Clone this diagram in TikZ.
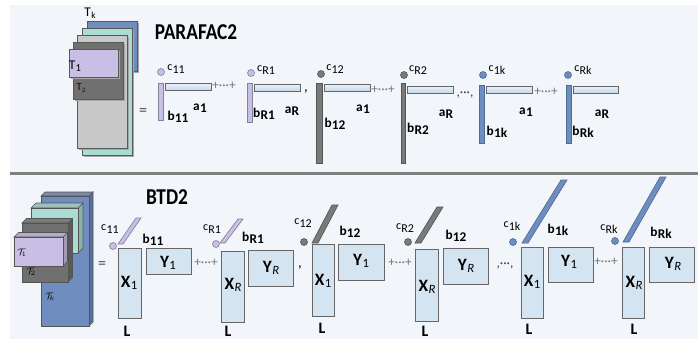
\documentclass[tikz,border=0pt]{standalone}
\usepackage{fontspec}
\setmainfont{Carlito}
\usepackage{graphicx}
\usetikzlibrary{calc}

\definecolor{panel}{HTML}{F2F5FA}
\definecolor{lavfill}{HTML}{C9BFE4}
\definecolor{lavline}{HTML}{85809C}
\definecolor{gryfill}{HTML}{7A7A7A}
\definecolor{gryline}{HTML}{555555}
\definecolor{blufill}{HTML}{6F8DBF}
\definecolor{bluline}{HTML}{4D6B99}
\definecolor{tealfill}{HTML}{A9DDD3}
\definecolor{lgrayfill}{HTML}{C8C8C8}
\definecolor{dgrayfill}{HTML}{707070}
\definecolor{bartop}{HTML}{EAF2F9}
\definecolor{barbot}{HTML}{C5D9EA}
\definecolor{boxfill}{HTML}{D4E4F1}
\definecolor{boxline}{HTML}{666666}
\definecolor{opgray}{HTML}{777777}

% label helpers
\newcommand\subsc[2]{#1\kern0.2pt\raisebox{-0.4ex}{#2}}
\newcommand\bigsub[2]{{\fontsize{13}{14}\selectfont\bfseries #1}\kern0.3pt\raisebox{-0.3ex}{\fontsize{9.5}{10}\selectfont #2}}
% slanted bar: style, bottom-left, top-right, width
\newcommand\slab[4]{\path[#1] (#2) -- ++(#4,0) -- (#3) -- ++(-#4,0) -- cycle;}
% box seen in perspective: fill, side fill, x1, y1, x2, y2, depth
\newcommand\cuboid[7]{%
  \path[draw=gryline,line width=0.5pt,fill=#2] (#5,#4) -- ++(#7,-#7) -- ++(0,#6-#4) -- (#5,#6) -- cycle;
  \path[draw=gryline,line width=0.5pt,fill=#2!80!white] (#3,#4) -- ++(#7,-#7) -- (#5+#7,#4-#7) -- (#5,#4) -- cycle;
  \path[draw=gryline,line width=0.5pt,fill=#1] (#3,#4) rectangle (#5,#6);}
% flat sheet with a soft drop shadow
\newcommand\sheet[5]{%
  \fill[black!35] (#2+1.5,#3+1.5) rectangle (#4+1.5,#5+1.5);
  \draw[stk,fill=#1] (#2,#3) rectangle (#4,#5);}

\tikzset{
  stk/.style={draw=black!65,line width=0.6pt},
  lav/.style={fill=lavfill,draw=lavline,line width=0.5pt},
  gry/.style={fill=gryfill,draw=gryline,line width=0.5pt},
  blu/.style={fill=blufill,draw=bluline,line width=0.5pt},
  abar/.style={top color=bartop,bottom color=barbot,draw=black!60,line width=0.6pt},
  fbox/.style={fill=boxfill,draw=boxline,line width=0.7pt},
  clab/.style={inner sep=0pt,font=\fontsize{9}{10}\selectfont},
  blab/.style={inner sep=0pt,font=\fontsize{10}{11}\selectfont\bfseries},
  op/.style={inner sep=0pt,text=opgray,font=\fontsize{10}{11}\selectfont},
  eqs/.style={inner sep=0pt,text=black!70,font=\fontsize{12}{13}\selectfont},
  lL/.style={inner sep=0pt,font=\fontsize{12}{13}\selectfont\bfseries},
  ttl/.style={inner sep=0pt,font=\fontsize{17}{18}\selectfont\bfseries},
  tlab/.style={inner sep=0pt,font=\fontsize{10}{11}\selectfont},
}

\begin{document}
\begin{tikzpicture}[x=0.75pt,y=-0.75pt]
\useasboundingbox (0,0) rectangle (698,339);
\fill[white] (0,0) rectangle (698,339);
\fill[panel] (10,5) rectangle (698,339);
\draw[black!50,line width=1.6pt] (10,173.5) -- (698,173.5);

% ---------------- PARAFAC2 ----------------
\sheet{blufill}{87}{21}{137}{71}
\sheet{tealfill}{82}{28}{132}{155}
\sheet{lgrayfill}{77}{35}{127}{148}
\sheet{dgrayfill}{73}{42}{123}{99}
\sheet{lavfill}{69}{49}{118}{77}
\node[tlab] (tk) at (90,13) {\subsc{T}{\fontsize{7}{8}\selectfont k}};
\node[tlab] (t1) at (75,66) {\subsc{T}{\fontsize{8}{9}\selectfont 1}};
\node[tlab,text=black!70!red!60!black] (t2) at (81,88) {\fontsize{8}{9}\selectfont\subsc{T}{\fontsize{5}{6}\selectfont 2}};
\node[eqs] (eqa) at (143,112) {=};
\node[ttl] (titlea) at (196,32) {\scalebox{0.85}[1]{PARAFAC2}};

% rank-one terms
\fill[lav] (161,72) circle (2.6pt);
\draw[lav] (158,83) rectangle (163,120);
\draw[abar] (165,83) rectangle (211,90);
\node[clab] (c11) at (176,69) {\subsc{c}{11}};
\node[blab] (b11) at (178,117) {\subsc{b}{11}};
\node[blab] (a11) at (200,108) {\subsc{a}{1}};
\node[op] (opa1) at (224,86) {+···+};

\fill[lav] (251,73) circle (2.6pt);
\draw[lav] (247,83) rectangle (252,122);
\draw[abar] (254,84) rectangle (300,91);
\node[clab] (cR1) at (266,70) {\subsc{c}{R1}};
\node[blab] (bR1) at (264,114) {\subsc{b}{R1}};
\node[blab] (aR1) at (292,111) {\subsc{a}{R}};
\node[blab,font=\fontsize{11}{12}\selectfont] (cma) at (306,92) {,};

\fill[gry] (321,74) circle (2.6pt);
\draw[gry] (316,83) rectangle (322,163);
\draw[abar] (324,84) rectangle (370,91);
\node[clab] (c12) at (335,69) {\subsc{c}{12}};
\node[blab] (b12) at (335,124) {\subsc{b}{12}};
\node[blab] (a12) at (363,109) {\subsc{a}{1}};
\node[op] (opa2) at (383,90) {+···+};

\fill[gry] (404,75) circle (2.6pt);
\draw[gry] (401,83) rectangle (405,163);
\draw[abar] (407,86) rectangle (453,93);
\node[clab] (cR2) at (418,70) {\subsc{c}{R2}};
\node[blab] (bR2) at (418,129) {\subsc{b}{R2}};
\node[blab] (aR2) at (446,114) {\subsc{a}{R}};
\node[op,text=black!75] (dotsa) at (465,95) {,···,};

\fill[blu] (483,75) circle (2.6pt);
\draw[blu] (479,85) rectangle (484,143);
\draw[abar] (486,86) rectangle (532,93);
\node[clab] (c1k) at (497,70) {\subsc{c}{1k}};
\node[blab] (b1k) at (497,132) {\subsc{b}{1k}};
\node[blab] (a1k) at (526,112) {\subsc{a}{1}};
\node[op] (opa3) at (546,92) {+···+};

\fill[blu] (568,75) circle (2.6pt);
\draw[blu] (566,85) rectangle (571,143);
\draw[abar] (573,86) rectangle (618,93);
\node[clab] (cRk) at (583,70) {\subsc{c}{Rk}};
\node[blab] (bRk) at (583,132) {\subsc{b}{Rk}};
\node[blab] (aRk) at (602,114) {\subsc{a}{R}};

% ---------------- BTD2 ----------------
\cuboid{blufill}{blufill!80!black}{41}{196}{89}{326}{4}
\cuboid{tealfill}{tealfill!80!black}{31}{208}{78}{253}{5}
\cuboid{dgrayfill}{dgrayfill!80!black}{22}{223}{68}{282}{4.5}
\cuboid{lavfill}{lavfill!80!black}{14}{237}{63}{266}{4.5}
\node[inner sep=0pt,font=\fontsize{7}{8}\selectfont] (s1) at (22,253) {$\mathcal{T}_{\!1}$};
\node[inner sep=0pt,font=\fontsize{7}{8}\selectfont] (s2) at (31,272) {$\mathcal{T}_{\!2}$};
\node[inner sep=0pt,font=\fontsize{7}{8}\selectfont] (sk) at (50,297) {$\mathcal{T}_{\!k}$};
\node[eqs] (eqb) at (102,265) {=};
\node[ttl] (titleb) at (167,197) {\scalebox{0.85}[1]{BTD2}};

% block terms
\fill[lav] (113,246) circle (2.6pt);
\slab{lav}{118,244}{141,218}{5}
\draw[fbox] (118,248) rectangle (141,318);
\draw[fbox] (146,248) rectangle (191,274);
\node[clab] (bc11) at (110,229) {\subsc{c}{11}};
\node[blab] (bb11) at (153,240) {\subsc{b}{11}};
\node[inner sep=0pt] (x1a) at (129,283) {\bigsub{X}{1}};
\node[inner sep=0pt] (y1a) at (168,263) {\bigsub{Y}{1}};
\node[lL] (l1) at (127,331) {L};
\node[op] (opb1) at (206,263) {+···+};

\fill[lav] (216,244) circle (2.6pt);
\slab{lav}{220,243}{243,219}{5}
\draw[fbox] (221,251) rectangle (244,322);
\draw[fbox] (248,250) rectangle (293,286);
\node[clab] (bcR1) at (212,229) {\subsc{c}{R1}};
\node[blab] (bbR1) at (253,238) {\subsc{b}{R1}};
\node[inner sep=0pt] (xRa) at (233,285) {\bigsub{X}{\itshape R}};
\node[inner sep=0pt] (yRa) at (271,268) {\bigsub{Y}{\itshape R}};
\node[lL] (l2) at (228,331) {L};
\node[blab,font=\fontsize{11}{12}\selectfont] (cmb) at (300,268) {,};

\fill[gry] (304,242) circle (2.6pt);
\slab{gry}{312,243}{338,205}{6}
\draw[fbox] (312,244) rectangle (334,316);
\draw[fbox] (338,244) rectangle (384,280);
\node[clab] (bc12) at (303,223) {\subsc{c}{12}};
\node[blab] (bb12) at (350,232) {\subsc{b}{12}};
\node[inner sep=0pt] (x1b) at (323,281) {\bigsub{X}{1}};
\node[inner sep=0pt] (y1b) at (361,261) {\bigsub{Y}{1}};
\node[lL] (l3) at (322,328) {L};
\node[op] (opb2) at (400,263) {+···+};

\fill[gry] (408,242) circle (2.6pt);
\slab{gry}{415,243}{443,207}{6}
\draw[fbox] (415,249) rectangle (438,321);
\draw[fbox] (443,248) rectangle (488,284);
\node[clab] (bcR2) at (405,228) {\subsc{c}{R2}};
\node[blab] (bbR2) at (456,236) {\subsc{b}{12}};
\node[inner sep=0pt] (xRb) at (427,287) {\bigsub{X}{\itshape R}};
\node[inner sep=0pt] (yRb) at (466,266) {\bigsub{Y}{\itshape R}};
\node[lL] (l4) at (425,331) {L};
\node[op,text=black!75] (dotsb) at (505,266) {,···,};

\fill[blu] (513,242) circle (2.6pt);
\slab{blu}{522,243}{567,180}{6}
\draw[fbox] (521,247) rectangle (543,318);
\draw[fbox] (548,247) rectangle (593,282);
\node[clab] (bc1k) at (512,226) {\subsc{c}{1k}};
\node[blab] (bb1k) at (558,230) {\subsc{b}{1k}};
\node[inner sep=0pt] (x1c) at (532,282) {\bigsub{X}{1}};
\node[inner sep=0pt] (y1c) at (569,262) {\bigsub{Y}{1}};
\node[lL] (l5) at (529,329) {L};
\node[op] (opb3) at (606,262) {+···+};

\fill[blu] (615,241) circle (2.6pt);
\slab{blu}{623,242}{666,177}{6}
\draw[fbox] (622,247) rectangle (644,318);
\draw[fbox] (649,247) rectangle (694,282);
\node[clab] (bcRk) at (609,229) {\subsc{c}{Rk}};
\node[blab] (bbRk) at (661,233) {\subsc{b}{Rk}};
\node[inner sep=0pt] (xRc) at (634,283) {\bigsub{X}{\itshape R}};
\node[inner sep=0pt] (yRc) at (673,264) {\bigsub{Y}{\itshape R}};
\node[lL] (l6) at (634,329) {L};
\end{tikzpicture}
\end{document}
